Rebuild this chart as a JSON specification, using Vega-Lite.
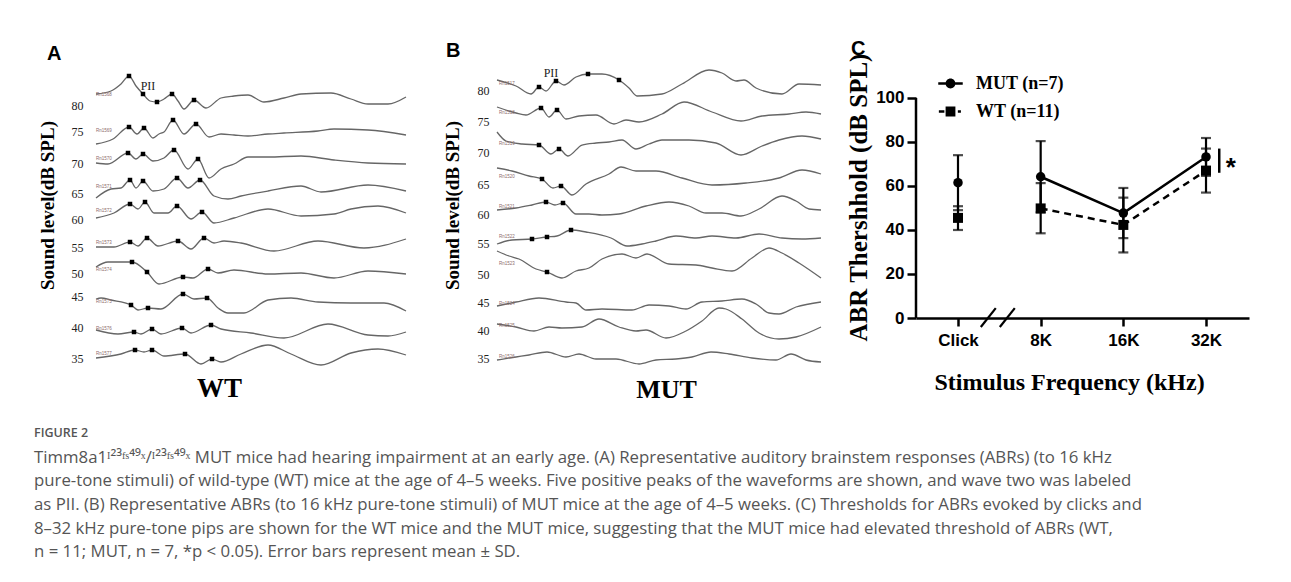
{
  "$schema": "https://vega.github.io/schema/vega-lite/v6.json",
  "background": "white",
  "padding": {"left": 34, "top": 38, "right": 5, "bottom": 5},
  "config": {
    "view": {"stroke": null},
    "axis": {"grid": false},
    "font": "Liberation Sans"
  },
  "spacing": 20,
  "title": {
    "text": "FIGURE 2",
    "subtitle": [
      "Timm8a1ᴵ²³ᶠˢ⁴⁹ˣ/ᴵ²³ᶠˢ⁴⁹ˣ MUT mice had hearing impairment at an early age. (A) Representative auditory brainstem responses (ABRs) (to 16 kHz",
      "pure-tone stimuli) of wild-type (WT) mice at the age of 4–5 weeks. Five positive peaks of the waveforms are shown, and wave two was labeled",
      "as PII. (B) Representative ABRs (to 16 kHz pure-tone stimuli) of MUT mice at the age of 4–5 weeks. (C) Thresholds for ABRs evoked by clicks and",
      "8–32 kHz pure-tone pips are shown for the WT mice and the MUT mice, suggesting that the MUT mice had elevated threshold of ABRs (WT,",
      "n = 11; MUT, n = 7, *p < 0.05). Error bars represent mean ± SD."
    ],
    "orient": "bottom",
    "anchor": "start",
    "frame": "bounds",
    "dx": -4,
    "offset": 25,
    "font": "Open Sans",
    "fontSize": 12.5,
    "fontWeight": 600,
    "color": "#555555",
    "subtitleFont": "Open Sans",
    "subtitleFontSize": 16.8,
    "subtitleColor": "#555555",
    "subtitleLineHeight": 23.7,
    "subtitlePadding": 10
  },
  "datasets": {
    "wtWave": [
      {"level":80,"t":0,"uv":28.7},{"level":80,"t":15,"uv":29.0},{"level":80,"t":25,"uv":29.7},{"level":80,"t":33,"uv":30.5},{"level":80,"t":40,"uv":29.5},{"level":80,"t":47,"uv":28.7},{"level":80,"t":54,"uv":28.0},{"level":80,"t":61,"uv":27.9},{"level":80,"t":68,"uv":28.2},{"level":80,"t":76,"uv":28.7},{"level":80,"t":82,"uv":28.0},{"level":80,"t":88,"uv":27.2},{"level":80,"t":98,"uv":28.1},{"level":80,"t":110,"uv":27.3},{"level":80,"t":125,"uv":28.3},{"level":80,"t":138,"uv":28.5},{"level":80,"t":152,"uv":28.6},{"level":80,"t":168,"uv":27.9},{"level":80,"t":188,"uv":28.3},{"level":80,"t":205,"uv":28.7},{"level":80,"t":235,"uv":28.8},{"level":80,"t":255,"uv":28.2},{"level":80,"t":272,"uv":27.7},{"level":80,"t":292,"uv":27.7},{"level":80,"t":310,"uv":28.4},
      {"level":75,"t":0,"uv":23.7},{"level":75,"t":17,"uv":24.2},{"level":75,"t":33,"uv":25.4},{"level":75,"t":41,"uv":24.7},{"level":75,"t":48,"uv":25.3},{"level":75,"t":57,"uv":24.3},{"level":75,"t":63,"uv":24.7},{"level":75,"t":68,"uv":24.9},{"level":75,"t":77,"uv":26.1},{"level":75,"t":88,"uv":24.7},{"level":75,"t":100,"uv":25.7},{"level":75,"t":113,"uv":24.4},{"level":75,"t":125,"uv":24.7},{"level":75,"t":138,"uv":24.6},{"level":75,"t":152,"uv":24.5},{"level":75,"t":172,"uv":24.7},{"level":75,"t":188,"uv":24.8},{"level":75,"t":222,"uv":25.0},{"level":75,"t":238,"uv":25.2},{"level":75,"t":272,"uv":25.1},{"level":75,"t":310,"uv":24.6},
      {"level":70,"t":0,"uv":21.8},{"level":70,"t":12,"uv":21.7},{"level":70,"t":32,"uv":22.8},{"level":70,"t":40,"uv":22.2},{"level":70,"t":47,"uv":22.7},{"level":70,"t":57,"uv":22.0},{"level":70,"t":68,"uv":22.3},{"level":70,"t":78,"uv":23.1},{"level":70,"t":92,"uv":21.2},{"level":70,"t":102,"uv":22.2},{"level":70,"t":113,"uv":20.3},{"level":70,"t":125,"uv":21.2},{"level":70,"t":138,"uv":21.7},{"level":70,"t":152,"uv":22.4},{"level":70,"t":172,"uv":22.4},{"level":70,"t":205,"uv":22.5},{"level":70,"t":238,"uv":22.1},{"level":70,"t":272,"uv":21.8},{"level":70,"t":310,"uv":21.7},
      {"level":65,"t":0,"uv":18.3},{"level":65,"t":15,"uv":19.2},{"level":65,"t":25,"uv":19.3},{"level":65,"t":34,"uv":20.1},{"level":65,"t":40,"uv":19.3},{"level":65,"t":47,"uv":20.0},{"level":65,"t":57,"uv":19.0},{"level":65,"t":68,"uv":19.2},{"level":65,"t":81,"uv":20.3},{"level":65,"t":92,"uv":19.3},{"level":65,"t":104,"uv":20.1},{"level":65,"t":118,"uv":18.5},{"level":65,"t":132,"uv":18.2},{"level":65,"t":145,"uv":18.5},{"level":65,"t":172,"uv":19.0},{"level":65,"t":205,"uv":19.5},{"level":65,"t":225,"uv":18.9},{"level":65,"t":272,"uv":19.6},{"level":65,"t":310,"uv":19.0},
      {"level":60,"t":0,"uv":16.3},{"level":60,"t":18,"uv":16.8},{"level":60,"t":34,"uv":17.7},{"level":60,"t":42,"uv":17.2},{"level":60,"t":49,"uv":17.9},{"level":60,"t":58,"uv":16.8},{"level":60,"t":72,"uv":16.8},{"level":60,"t":81,"uv":17.5},{"level":60,"t":95,"uv":16.2},{"level":60,"t":106,"uv":16.9},{"level":60,"t":118,"uv":15.8},{"level":60,"t":138,"uv":16.3},{"level":60,"t":172,"uv":17.2},{"level":60,"t":205,"uv":16.5},{"level":60,"t":238,"uv":16.7},{"level":60,"t":255,"uv":17.2},{"level":60,"t":282,"uv":17.5},{"level":60,"t":310,"uv":16.8},
      {"level":55,"t":0,"uv":13.4},{"level":55,"t":18,"uv":13.4},{"level":55,"t":34,"uv":13.9},{"level":55,"t":42,"uv":13.5},{"level":55,"t":51,"uv":14.3},{"level":55,"t":62,"uv":13.5},{"level":55,"t":82,"uv":14.0},{"level":55,"t":95,"uv":13.2},{"level":55,"t":108,"uv":14.3},{"level":55,"t":118,"uv":13.8},{"level":55,"t":128,"uv":14.0},{"level":55,"t":145,"uv":13.8},{"level":55,"t":178,"uv":13.0},{"level":55,"t":222,"uv":14.0},{"level":55,"t":268,"uv":13.3},{"level":55,"t":310,"uv":14.2},
      {"level":50,"t":0,"uv":11.4},{"level":50,"t":12,"uv":11.9},{"level":50,"t":36,"uv":11.9},{"level":50,"t":51,"uv":10.9},{"level":50,"t":63,"uv":9.7},{"level":50,"t":87,"uv":10.4},{"level":50,"t":97,"uv":10.3},{"level":50,"t":112,"uv":11.2},{"level":50,"t":122,"uv":10.8},{"level":50,"t":138,"uv":11.1},{"level":50,"t":172,"uv":10.7},{"level":50,"t":205,"uv":10.8},{"level":50,"t":238,"uv":10.3},{"level":50,"t":272,"uv":11.0},{"level":50,"t":310,"uv":10.7},
      {"level":45,"t":0,"uv":8.2},{"level":45,"t":5,"uv":8.3},{"level":45,"t":15,"uv":8.1},{"level":45,"t":35,"uv":7.6},{"level":45,"t":42,"uv":7.1},{"level":45,"t":52,"uv":7.3},{"level":45,"t":65,"uv":7.2},{"level":45,"t":87,"uv":8.7},{"level":45,"t":98,"uv":8.2},{"level":45,"t":111,"uv":8.3},{"level":45,"t":122,"uv":7.3},{"level":45,"t":132,"uv":6.8},{"level":45,"t":148,"uv":6.8},{"level":45,"t":172,"uv":8.1},{"level":45,"t":195,"uv":8.3},{"level":45,"t":222,"uv":7.9},{"level":45,"t":255,"uv":7.8},{"level":45,"t":288,"uv":7.8},{"level":45,"t":310,"uv":7.0},
      {"level":40,"t":0,"uv":5.1},{"level":40,"t":22,"uv":4.7},{"level":40,"t":38,"uv":4.9},{"level":40,"t":45,"uv":4.7},{"level":40,"t":56,"uv":5.2},{"level":40,"t":65,"uv":4.7},{"level":40,"t":86,"uv":5.3},{"level":40,"t":95,"uv":4.8},{"level":40,"t":115,"uv":5.6},{"level":40,"t":125,"uv":5.2},{"level":40,"t":155,"uv":4.8},{"level":40,"t":188,"uv":4.3},{"level":40,"t":232,"uv":5.7},{"level":40,"t":272,"uv":4.6},{"level":40,"t":292,"uv":4.5},{"level":40,"t":310,"uv":4.9},
      {"level":35,"t":0,"uv":2.3},{"level":35,"t":25,"uv":2.7},{"level":35,"t":39,"uv":3.1},{"level":35,"t":48,"uv":2.9},{"level":35,"t":56,"uv":3.1},{"level":35,"t":68,"uv":2.5},{"level":35,"t":89,"uv":2.7},{"level":35,"t":105,"uv":1.7},{"level":35,"t":116,"uv":2.2},{"level":35,"t":125,"uv":1.9},{"level":35,"t":145,"uv":2.7},{"level":35,"t":172,"uv":3.6},{"level":35,"t":195,"uv":2.7},{"level":35,"t":225,"uv":1.6},{"level":35,"t":255,"uv":2.8},{"level":35,"t":282,"uv":3.2},{"level":35,"t":310,"uv":2.6}
    ],
    "wtPeaks": [
      {"level":80,"t":33,"uv":30.5},{"level":80,"t":47,"uv":28.7},{"level":80,"t":61,"uv":27.9},{"level":80,"t":76,"uv":28.7},{"level":80,"t":98,"uv":28.1},
      {"level":75,"t":33,"uv":25.4},{"level":75,"t":48,"uv":25.3},{"level":75,"t":77,"uv":26.1},{"level":75,"t":100,"uv":25.7},
      {"level":70,"t":32,"uv":22.8},{"level":70,"t":47,"uv":22.7},{"level":70,"t":78,"uv":23.1},{"level":70,"t":102,"uv":22.2},
      {"level":65,"t":34,"uv":20.1},{"level":65,"t":47,"uv":20.0},{"level":65,"t":81,"uv":20.3},{"level":65,"t":104,"uv":20.1},
      {"level":60,"t":34,"uv":17.7},{"level":60,"t":49,"uv":17.9},{"level":60,"t":81,"uv":17.5},{"level":60,"t":106,"uv":16.9},
      {"level":55,"t":34,"uv":13.9},{"level":55,"t":51,"uv":14.3},{"level":55,"t":82,"uv":14.0},{"level":55,"t":108,"uv":14.3},
      {"level":50,"t":36,"uv":11.9},{"level":50,"t":51,"uv":10.9},{"level":50,"t":87,"uv":10.4},{"level":50,"t":112,"uv":11.2},
      {"level":45,"t":35,"uv":7.6},{"level":45,"t":52,"uv":7.3},{"level":45,"t":87,"uv":8.7},{"level":45,"t":111,"uv":8.3},
      {"level":40,"t":38,"uv":4.9},{"level":40,"t":56,"uv":5.2},{"level":40,"t":86,"uv":5.3},{"level":40,"t":115,"uv":5.6},
      {"level":35,"t":39,"uv":3.1},{"level":35,"t":56,"uv":3.1},{"level":35,"t":89,"uv":2.7},{"level":35,"t":116,"uv":2.2}
    ],
    "wtRecs": [
      {"rec":"Rn1568","t":0,"uv":28.6},{"rec":"Rn1569","t":0,"uv":25.0},{"rec":"Rn1570","t":0,"uv":22.2},{"rec":"Rn1571","t":0,"uv":19.4},{"rec":"Rn1572","t":0,"uv":17.0},{"rec":"Rn1573","t":0,"uv":13.8},{"rec":"Rn1574","t":0,"uv":11.1},{"rec":"Rn1575","t":0,"uv":7.9},{"rec":"Rn1576","t":0,"uv":5.2},{"rec":"Rn1577","t":0,"uv":2.7}
    ],
    "mutWave": [
      {"level":80,"t":0,"uv":30.1},{"level":80,"t":19,"uv":29.5},{"level":80,"t":34,"uv":28.7},{"level":80,"t":42,"uv":29.4},{"level":80,"t":49,"uv":29.0},{"level":80,"t":59,"uv":30.0},{"level":80,"t":67,"uv":29.6},{"level":80,"t":79,"uv":30.4},{"level":80,"t":91,"uv":30.7},{"level":80,"t":105,"uv":30.7},{"level":80,"t":122,"uv":30.1},{"level":80,"t":132,"uv":29.3},{"level":80,"t":140,"uv":28.5},{"level":80,"t":165,"uv":28.7},{"level":80,"t":185,"uv":29.7},{"level":80,"t":212,"uv":31.1},{"level":80,"t":225,"uv":30.8},{"level":80,"t":239,"uv":30.0},{"level":80,"t":247,"uv":30.1},{"level":80,"t":259,"uv":29.3},{"level":80,"t":285,"uv":28.7},{"level":80,"t":302,"uv":29.7},{"level":80,"t":324,"uv":29.6},
      {"level":75,"t":0,"uv":27.4},{"level":75,"t":19,"uv":26.8},{"level":75,"t":29,"uv":26.6},{"level":75,"t":44,"uv":27.3},{"level":75,"t":52,"uv":26.4},{"level":75,"t":60,"uv":27.1},{"level":75,"t":69,"uv":26.2},{"level":75,"t":82,"uv":26.5},{"level":75,"t":99,"uv":26.6},{"level":75,"t":117,"uv":25.7},{"level":75,"t":129,"uv":26.1},{"level":75,"t":142,"uv":25.9},{"level":75,"t":165,"uv":26.7},{"level":75,"t":187,"uv":27.9},{"level":75,"t":215,"uv":26.9},{"level":75,"t":244,"uv":26.0},{"level":75,"t":265,"uv":26.5},{"level":75,"t":292,"uv":26.7},{"level":75,"t":309,"uv":26.9},{"level":75,"t":324,"uv":26.7},
      {"level":70,"t":0,"uv":24.9},{"level":70,"t":9,"uv":24.0},{"level":70,"t":25,"uv":23.7},{"level":70,"t":42,"uv":23.6},{"level":70,"t":54,"uv":22.7},{"level":70,"t":62,"uv":23.2},{"level":70,"t":71,"uv":22.5},{"level":70,"t":85,"uv":23.6},{"level":70,"t":99,"uv":23.8},{"level":70,"t":112,"uv":23.9},{"level":70,"t":125,"uv":24.1},{"level":70,"t":139,"uv":23.2},{"level":70,"t":152,"uv":23.7},{"level":70,"t":165,"uv":24.1},{"level":70,"t":192,"uv":24.1},{"level":70,"t":219,"uv":23.8},{"level":70,"t":244,"uv":22.6},{"level":70,"t":265,"uv":23.5},{"level":70,"t":282,"uv":24.1},{"level":70,"t":305,"uv":24.5},{"level":70,"t":324,"uv":24.2},
      {"level":65,"t":0,"uv":21.3},{"level":65,"t":15,"uv":21.0},{"level":65,"t":32,"uv":20.5},{"level":65,"t":45,"uv":20.2},{"level":65,"t":56,"uv":19.3},{"level":65,"t":64,"uv":19.5},{"level":65,"t":75,"uv":18.6},{"level":65,"t":89,"uv":19.7},{"level":65,"t":112,"uv":20.7},{"level":65,"t":124,"uv":21.4},{"level":65,"t":139,"uv":21.0},{"level":65,"t":159,"uv":21.0},{"level":65,"t":185,"uv":20.3},{"level":65,"t":215,"uv":19.6},{"level":65,"t":249,"uv":19.8},{"level":65,"t":282,"uv":20.3},{"level":65,"t":305,"uv":21.1},{"level":65,"t":324,"uv":20.7},
      {"level":60,"t":0,"uv":17.1},{"level":60,"t":19,"uv":17.3},{"level":60,"t":35,"uv":17.6},{"level":60,"t":49,"uv":17.9},{"level":60,"t":58,"uv":17.6},{"level":60,"t":66,"uv":17.8},{"level":60,"t":79,"uv":16.7},{"level":60,"t":92,"uv":16.7},{"level":60,"t":105,"uv":16.6},{"level":60,"t":122,"uv":16.7},{"level":60,"t":149,"uv":17.5},{"level":60,"t":172,"uv":17.9},{"level":60,"t":192,"uv":17.5},{"level":60,"t":209,"uv":16.8},{"level":60,"t":225,"uv":16.8},{"level":60,"t":244,"uv":16.5},{"level":60,"t":262,"uv":17.2},{"level":60,"t":285,"uv":18.5},{"level":60,"t":299,"uv":18.0},{"level":60,"t":312,"uv":17.2},{"level":60,"t":324,"uv":17.1},
      {"level":55,"t":0,"uv":13.7},{"level":55,"t":15,"uv":14.1},{"level":55,"t":35,"uv":14.2},{"level":55,"t":50,"uv":14.4},{"level":55,"t":60,"uv":14.5},{"level":55,"t":74,"uv":15.1},{"level":55,"t":89,"uv":14.9},{"level":55,"t":114,"uv":14.3},{"level":55,"t":130,"uv":13.5},{"level":55,"t":145,"uv":13.7},{"level":55,"t":159,"uv":14.0},{"level":55,"t":179,"uv":14.5},{"level":55,"t":199,"uv":14.3},{"level":55,"t":215,"uv":14.5},{"level":55,"t":239,"uv":14.3},{"level":55,"t":262,"uv":14.7},{"level":55,"t":285,"uv":14.3},{"level":55,"t":305,"uv":14.2},{"level":55,"t":324,"uv":14.3},
      {"level":50,"t":0,"uv":13.0},{"level":50,"t":12,"uv":12.5},{"level":50,"t":22,"uv":12.2},{"level":50,"t":39,"uv":11.2},{"level":50,"t":50,"uv":10.9},{"level":50,"t":65,"uv":10.3},{"level":50,"t":79,"uv":11.0},{"level":50,"t":92,"uv":11.3},{"level":50,"t":105,"uv":12.2},{"level":50,"t":125,"uv":12.7},{"level":50,"t":139,"uv":12.3},{"level":50,"t":150,"uv":12.7},{"level":50,"t":172,"uv":11.7},{"level":50,"t":199,"uv":11.6},{"level":50,"t":215,"uv":11.3},{"level":50,"t":235,"uv":11.0},{"level":50,"t":255,"uv":12.3},{"level":50,"t":272,"uv":13.3},{"level":50,"t":285,"uv":12.8},{"level":50,"t":302,"uv":11.8},{"level":50,"t":324,"uv":10.3},
      {"level":45,"t":0,"uv":7.5},{"level":45,"t":19,"uv":7.9},{"level":45,"t":42,"uv":8.3},{"level":45,"t":69,"uv":7.9},{"level":45,"t":79,"uv":7.8},{"level":45,"t":89,"uv":7.1},{"level":45,"t":105,"uv":7.2},{"level":45,"t":135,"uv":7.1},{"level":45,"t":152,"uv":7.6},{"level":45,"t":172,"uv":7.5},{"level":45,"t":189,"uv":7.2},{"level":45,"t":205,"uv":7.9},{"level":45,"t":225,"uv":8.0},{"level":45,"t":245,"uv":8.2},{"level":45,"t":259,"uv":7.7},{"level":45,"t":272,"uv":6.8},{"level":45,"t":282,"uv":6.7},{"level":45,"t":299,"uv":7.4},{"level":45,"t":324,"uv":7.9},
      {"level":40,"t":0,"uv":5.7},{"level":40,"t":19,"uv":5.4},{"level":40,"t":37,"uv":5.0},{"level":40,"t":52,"uv":5.4},{"level":40,"t":65,"uv":5.3},{"level":40,"t":85,"uv":5.4},{"level":40,"t":102,"uv":6.2},{"level":40,"t":122,"uv":5.4},{"level":40,"t":139,"uv":5.0},{"level":40,"t":149,"uv":5.1},{"level":40,"t":169,"uv":4.3},{"level":40,"t":189,"uv":5.0},{"level":40,"t":205,"uv":6.0},{"level":40,"t":222,"uv":7.3},{"level":40,"t":229,"uv":7.2},{"level":40,"t":245,"uv":6.2},{"level":40,"t":262,"uv":4.8},{"level":40,"t":282,"uv":4.2},{"level":40,"t":299,"uv":4.4},{"level":40,"t":324,"uv":5.4},
      {"level":35,"t":0,"uv":2.1},{"level":35,"t":19,"uv":2.4},{"level":35,"t":32,"uv":2.6},{"level":35,"t":50,"uv":2.9},{"level":35,"t":69,"uv":2.4},{"level":35,"t":82,"uv":2.7},{"level":35,"t":99,"uv":2.2},{"level":35,"t":119,"uv":2.2},{"level":35,"t":142,"uv":1.7},{"level":35,"t":159,"uv":2.1},{"level":35,"t":179,"uv":2.2},{"level":35,"t":195,"uv":2.4},{"level":35,"t":214,"uv":2.9},{"level":35,"t":232,"uv":2.7},{"level":35,"t":255,"uv":2.3},{"level":35,"t":279,"uv":2.1},{"level":35,"t":294,"uv":2.7},{"level":35,"t":309,"uv":2.1},{"level":35,"t":324,"uv":1.9}
    ],
    "mutPeaks": [
      {"level":80,"t":42,"uv":29.4},{"level":80,"t":59,"uv":30.0},{"level":80,"t":91,"uv":30.7},{"level":80,"t":122,"uv":30.1},
      {"level":75,"t":44,"uv":27.3},{"level":75,"t":60,"uv":27.1},
      {"level":70,"t":42,"uv":23.6},{"level":70,"t":62,"uv":23.2},
      {"level":65,"t":45,"uv":20.2},{"level":65,"t":64,"uv":19.5},
      {"level":60,"t":49,"uv":17.9},{"level":60,"t":66,"uv":17.8},
      {"level":55,"t":35,"uv":14.2},{"level":55,"t":50,"uv":14.4},{"level":55,"t":74,"uv":15.1},
      {"level":50,"t":50,"uv":10.9}
    ],
    "mutRecs": [
      {"rec":"Rn1517","t":2,"uv":29.7},{"rec":"Rn1518","t":2,"uv":26.8},{"rec":"Rn1519","t":2,"uv":23.7},{"rec":"Rn1520","t":2,"uv":20.4},{"rec":"Rn1521","t":2,"uv":17.4},{"rec":"Rn1522","t":2,"uv":14.4},{"rec":"Rn1523","t":2,"uv":11.7},{"rec":"Rn1524","t":2,"uv":7.7},{"rec":"Rn1525","t":2,"uv":5.5},{"rec":"Rn1526","t":2,"uv":2.4}
    ],
    "abr": [
      {"grp":"MUT (n=7)","freq":"Click","idx":1,"mean":61.5,"lo":49.0,"hi":74.0},
      {"grp":"MUT (n=7)","freq":"8K","idx":2,"mean":64.2,"lo":48.0,"hi":80.4},
      {"grp":"MUT (n=7)","freq":"16K","idx":3,"mean":47.7,"lo":36.3,"hi":59.1},
      {"grp":"MUT (n=7)","freq":"32K","idx":4,"mean":73.2,"lo":64.6,"hi":81.8},
      {"grp":"WT (n=11)","freq":"Click","idx":1,"mean":45.5,"lo":40.0,"hi":50.8},
      {"grp":"WT (n=11)","freq":"8K","idx":2,"mean":49.8,"lo":38.5,"hi":61.3},
      {"grp":"WT (n=11)","freq":"16K","idx":3,"mean":42.3,"lo":29.8,"hi":54.7},
      {"grp":"WT (n=11)","freq":"32K","idx":4,"mean":67.0,"lo":57.0,"hi":77.0}
    ]
  },
  "hconcat": [
    {
      "width": 327,
      "height": 310,
      "title": {"text": "A", "anchor": "start", "frame": "group", "dx": -49, "offset": -3, "font": "Liberation Sans", "fontSize": 20, "fontWeight": "bold", "color": "black"},
      "encoding": {
        "x": {"field": "t", "type": "quantitative", "scale": {"domain": [0, 327], "nice": false, "zero": false},
              "axis": {"title": "WT", "domain": false, "ticks": false, "labels": false, "titleFont": "Liberation Serif", "titleFontSize": 27, "titleFontWeight": "bold", "titleColor": "black", "titlePadding": 4, "titleX": 123}},
        "y": {"field": "uv", "type": "quantitative", "scale": {"domain": [1, 32], "nice": false, "zero": false},
              "axis": {"title": "Sound level(dB SPL)", "domain": false, "ticks": false,
                       "values": [27.6, 25, 21.8, 18.8, 16.2, 13.4, 10.8, 8.5, 5.4, 2.3],
                       "labelExpr": "['80','75','70','65','60','55','50','45','40','35'][indexof([27.6, 25, 21.8, 18.8, 16.2, 13.4, 10.8, 8.5, 5.4, 2.3], datum.value)]",
                       "labelOverlap": false, "labelFont": "Liberation Serif", "labelFontSize": 12, "labelColor": "#222222", "labelPadding": 13,
                       "titleFont": "Liberation Serif", "titleFontSize": 19, "titleFontWeight": "bold", "titleColor": "black", "titlePadding": 14, "titleY": 144}}
      },
      "layer": [
        {"data": {"name": "wtWave"}, "mark": {"type": "line", "interpolate": "monotone", "color": "#666666", "strokeWidth": 1.3}, "encoding": {"detail": {"field": "level", "type": "nominal"}}},
        {"data": {"name": "wtPeaks"}, "mark": {"type": "point", "shape": "square", "filled": true, "color": "black", "size": 20, "opacity": 1}},
        {"data": {"name": "wtRecs"}, "mark": {"type": "text", "font": "Liberation Sans", "fontSize": 4.5, "align": "left", "baseline": "middle", "color": "#8c6b6b"}, "encoding": {"text": {"field": "rec", "type": "nominal"}}},
        {"data": {"values": [{"t": 52, "uv": 29.5, "peak": "PII"}]}, "mark": {"type": "text", "font": "Liberation Serif", "fontSize": 12, "align": "center", "baseline": "middle", "color": "#222222"}, "encoding": {"text": {"field": "peak", "type": "nominal"}}}
      ]
    },
    {
      "width": 329,
      "height": 310,
      "title": {"text": "B", "anchor": "start", "frame": "group", "dx": -51, "offset": 0, "font": "Liberation Sans", "fontSize": 20, "fontWeight": "bold", "color": "black"},
      "encoding": {
        "x": {"field": "t", "type": "quantitative", "scale": {"domain": [0, 329], "nice": false, "zero": false},
              "axis": {"title": "MUT", "domain": false, "ticks": false, "labels": false, "titleFont": "Liberation Serif", "titleFontSize": 26, "titleFontWeight": "bold", "titleColor": "black", "titlePadding": 5, "titleX": 169}},
        "y": {"field": "uv", "type": "quantitative", "scale": {"domain": [1, 32], "nice": false, "zero": false},
              "axis": {"title": "Sound level(dB SPL)", "domain": false, "ticks": false,
                       "values": [29.1, 26, 22.9, 19.7, 16.7, 13.8, 10.7, 7.9, 5.1, 2.3],
                       "labelExpr": "['80','75','70','65','60','55','50','45','40','35'][indexof([29.1, 26, 22.9, 19.7, 16.7, 13.8, 10.7, 7.9, 5.1, 2.3], datum.value)]",
                       "labelOverlap": false, "labelFont": "Liberation Serif", "labelFontSize": 12, "labelColor": "#222222", "labelPadding": 8,
                       "titleFont": "Liberation Serif", "titleFontSize": 19, "titleFontWeight": "bold", "titleColor": "black", "titlePadding": 15, "titleY": 144}}
      },
      "layer": [
        {"data": {"name": "mutWave"}, "mark": {"type": "line", "interpolate": "monotone", "color": "#666666", "strokeWidth": 1.3}, "encoding": {"detail": {"field": "level", "type": "nominal"}}},
        {"data": {"name": "mutPeaks"}, "mark": {"type": "point", "shape": "square", "filled": true, "color": "black", "size": 20, "opacity": 1}},
        {"data": {"name": "mutRecs"}, "mark": {"type": "text", "font": "Liberation Sans", "fontSize": 4.5, "align": "left", "baseline": "middle", "color": "#8c6b6b"}, "encoding": {"text": {"field": "rec", "type": "nominal"}}},
        {"data": {"values": [{"t": 54, "uv": 30.8, "peak": "PII"}]}, "mark": {"type": "text", "font": "Liberation Serif", "fontSize": 12, "align": "center", "baseline": "middle", "color": "#222222"}, "encoding": {"text": {"field": "peak", "type": "nominal"}}}
      ]
    },
    {
      "width": 333,
      "height": 257,
      "title": {"text": "C", "anchor": "start", "frame": "group", "dx": -65, "offset": -6, "font": "Liberation Sans", "fontSize": 20, "fontWeight": "bold", "color": "black"},
      "layer": [
        {
          "data": {"name": "abr"},
          "mark": {"type": "errorbar", "ticks": true, "size": 10, "thickness": 2.2, "color": "black"},
          "encoding": {
            "x": {"field": "idx", "type": "quantitative", "title": "Stimulus Frequency (kHz)", "scale": {"domain": [0.492, 4.52], "nice": false, "zero": false},
                  "axis": {"values": [1, 2, 3, 4], "labelExpr": "datum.value == 1 ? 'Click' : datum.value == 2 ? '8K' : datum.value == 3 ? '16K' : '32K'", "labelFlush": false, "domainColor": "black", "domainWidth": 2.5, "tickColor": "black", "tickWidth": 2.5, "tickSize": 8, "labelPadding": 6, "labelFont": "Liberation Sans", "labelFontSize": 17, "labelFontWeight": "bold", "labelColor": "black", "titleFont": "Liberation Serif", "titleFontSize": 24, "titleFontWeight": "bold", "titleColor": "black", "titlePadding": 22, "titleX": 153}},
            "y": {"field": "lo", "type": "quantitative", "title": "ABR Thershhold (dB SPL)", "scale": {"domain": [0, 116.8], "nice": false, "zero": false},
                  "axis": {"values": [0, 20, 40, 60, 80, 100], "domain": false, "tickColor": "black", "tickWidth": 2.5, "tickSize": 9, "labelPadding": 3, "labelFont": "Liberation Sans", "labelFontSize": 17, "labelFontWeight": "bold", "labelColor": "black", "titleFont": "Liberation Serif", "titleFontSize": 25, "titleFontWeight": "bold", "titleColor": "black", "titlePadding": 4, "titleY": 136}},
            "y2": {"field": "hi"},
            "detail": {"field": "grp", "type": "nominal"}
          }
        },
        {
          "data": {"values": [{"idx": 0.492, "lo": 0, "hi": 100}]},
          "mark": {"type": "rule", "color": "black", "strokeWidth": 2.5},
          "encoding": {
            "x": {"field": "idx", "type": "quantitative", "title": "Stimulus Frequency (kHz)", "scale": {"domain": [0.492, 4.52], "nice": false, "zero": false}},
            "y": {"field": "lo", "type": "quantitative", "title": "ABR Thershhold (dB SPL)", "scale": {"domain": [0, 116.8], "nice": false, "zero": false}},
            "y2": {"field": "hi"}
          }
        },
        {
          "data": {"name": "abr"},
          "transform": [{"filter": "datum.idx >= 2 && datum.grp == 'MUT (n=7)'"}],
          "mark": {"type": "line", "color": "black", "strokeWidth": 2.5},
          "encoding": {
            "x": {"field": "idx", "type": "quantitative", "title": "Stimulus Frequency (kHz)", "scale": {"domain": [0.492, 4.52], "nice": false, "zero": false}},
            "y": {"field": "mean", "type": "quantitative", "title": "ABR Thershhold (dB SPL)", "scale": {"domain": [0, 116.8], "nice": false, "zero": false}}
          }
        },
        {
          "data": {"name": "abr"},
          "transform": [{"filter": "datum.idx >= 2 && datum.grp == 'WT (n=11)'"}],
          "mark": {"type": "line", "color": "black", "strokeWidth": 2.5, "strokeDash": [7, 5]},
          "encoding": {
            "x": {"field": "idx", "type": "quantitative", "title": "Stimulus Frequency (kHz)", "scale": {"domain": [0.492, 4.52], "nice": false, "zero": false}},
            "y": {"field": "mean", "type": "quantitative", "title": "ABR Thershhold (dB SPL)", "scale": {"domain": [0, 116.8], "nice": false, "zero": false}}
          }
        },
        {
          "data": {"name": "abr"},
          "transform": [{"filter": "datum.grp == 'MUT (n=7)'"}],
          "mark": {"type": "point", "shape": "circle", "filled": true, "color": "black", "size": 90, "opacity": 1},
          "encoding": {
            "x": {"field": "idx", "type": "quantitative", "title": "Stimulus Frequency (kHz)", "scale": {"domain": [0.492, 4.52], "nice": false, "zero": false}},
            "y": {"field": "mean", "type": "quantitative", "title": "ABR Thershhold (dB SPL)", "scale": {"domain": [0, 116.8], "nice": false, "zero": false}}
          }
        },
        {
          "data": {"name": "abr"},
          "transform": [{"filter": "datum.grp == 'WT (n=11)'"}],
          "mark": {"type": "point", "shape": "square", "filled": true, "color": "black", "size": 100, "opacity": 1},
          "encoding": {
            "x": {"field": "idx", "type": "quantitative", "title": "Stimulus Frequency (kHz)", "scale": {"domain": [0.492, 4.52], "nice": false, "zero": false}},
            "y": {"field": "mean", "type": "quantitative", "title": "ABR Thershhold (dB SPL)", "scale": {"domain": [0, 116.8], "nice": false, "zero": false}}
          }
        },
        {
          "data": {"name": "abr"},
          "mark": {"type": "point", "filled": true, "color": "black", "size": 0, "opacity": 1},
          "encoding": {
            "x": {"field": "idx", "type": "quantitative", "title": "Stimulus Frequency (kHz)", "scale": {"domain": [0.492, 4.52], "nice": false, "zero": false}},
            "y": {"field": "mean", "type": "quantitative", "title": "ABR Thershhold (dB SPL)", "scale": {"domain": [0, 116.8], "nice": false, "zero": false}},
            "shape": {"field": "grp", "type": "nominal",
                      "scale": {"domain": ["MUT (n=7)", "WT (n=11)"], "range": ["M-1,-0.1L-0.35,-0.1L-0.35,0.1L-1,0.1ZM0.35,-0.1L1,-0.1L1,0.1L0.35,0.1ZM0.4,0A0.4,0.4,0,1,1,-0.4,0A0.4,0.4,0,1,1,0.4,0Z", "M-0.95,-0.1L-0.5,-0.1L-0.5,0.1L-0.95,0.1ZM-0.4,-0.4L0.4,-0.4L0.4,0.4L-0.4,0.4ZM0.6,-0.1L0.85,-0.1L0.85,0.1L0.6,0.1Z"]},
                      "legend": {"orient": "none", "legendX": 842, "legendY": 10, "title": null, "padding": 0, "rowPadding": 6, "labelOffset": 13, "symbolSize": 600, "symbolFillColor": "black", "symbolStrokeWidth": 0, "symbolOpacity": 1, "labelFont": "Liberation Serif", "labelFontSize": 18, "labelFontWeight": "bold", "labelColor": "black"}}
          }
        },
        {
          "data": {"values": [{"idx": 4.16, "lo": 66, "hi": 77}]},
          "mark": {"type": "rule", "color": "black", "strokeWidth": 2.5},
          "encoding": {
            "x": {"field": "idx", "type": "quantitative", "title": "Stimulus Frequency (kHz)", "scale": {"domain": [0.492, 4.52], "nice": false, "zero": false}},
            "y": {"field": "lo", "type": "quantitative", "title": "ABR Thershhold (dB SPL)", "scale": {"domain": [0, 116.8], "nice": false, "zero": false}},
            "y2": {"field": "hi"}
          }
        },
        {
          "data": {"values": [{"idx": 4.3, "lo": 68, "mark": "*"}]},
          "mark": {"type": "text", "font": "Liberation Sans", "fontWeight": "bold", "fontSize": 26, "align": "center", "baseline": "middle", "color": "black"},
          "encoding": {
            "x": {"field": "idx", "type": "quantitative", "title": "Stimulus Frequency (kHz)", "scale": {"domain": [0.492, 4.52], "nice": false, "zero": false}},
            "y": {"field": "lo", "type": "quantitative", "title": "ABR Thershhold (dB SPL)", "scale": {"domain": [0, 116.8], "nice": false, "zero": false}},
            "text": {"field": "mark", "type": "nominal"}
          }
        },
        {
          "data": {"values": [{"x1": 1.276, "x2": 1.457, "y1": -4.1, "y2": 4.5}, {"x1": 1.506, "x2": 1.687, "y1": -4.1, "y2": 4.5}]},
          "mark": {"type": "rule", "color": "black", "strokeWidth": 2.2},
          "encoding": {
            "x": {"field": "x1", "type": "quantitative", "title": "Stimulus Frequency (kHz)", "scale": {"domain": [0.492, 4.52], "nice": false, "zero": false}},
            "x2": {"field": "x2"},
            "y": {"field": "y1", "type": "quantitative", "title": "ABR Thershhold (dB SPL)", "scale": {"domain": [0, 116.8], "nice": false, "zero": false}},
            "y2": {"field": "y2"}
          }
        }
      ]
    }
  ]
}
